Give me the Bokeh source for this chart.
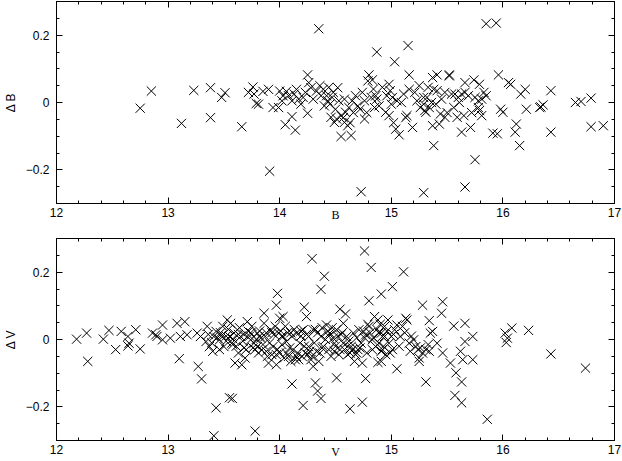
import numpy as np
from bokeh.plotting import figure
from bokeh.models import LinearAxis, FixedTicker, Range1d, ColumnDataSource
from bokeh.layouts import column
from bokeh.embed import file_html
from bokeh.resources import INLINE

# ---------------- data ----------------
b_mag = [12.75, 12.85, 13.12, 13.23, 13.38, 13.38, 13.48, 13.51, 13.66, 13.72, 13.76, 13.77, 13.79,
         13.81, 13.85, 13.90, 13.99, 14.00, 14.03, 14.06, 14.02, 14.05, 14.11, 14.14, 14.11, 14.15, 14.17,
         14.21, 14.25, 14.26, 14.25, 14.28, 14.33, 14.35, 14.39, 14.42, 14.43, 14.45, 14.48, 14.52, 14.46,
         14.51, 14.55, 14.59, 14.58, 14.61, 14.55, 14.64, 14.65, 14.62, 14.68, 14.70, 14.76, 14.79, 14.80,
         14.83, 14.82, 14.86, 14.85, 14.87, 14.87, 14.95, 14.98, 14.99, 15.01, 14.98, 15.03, 15.04, 15.07,
         15.05, 15.11, 15.15, 15.16, 15.16, 15.14, 15.19, 15.23, 15.26, 15.29, 15.30, 14.73, 15.29, 13.91,
         13.94, 14.76, 14.58, 14.37, 14.49,
         15.85, 15.94, 15.32, 15.29, 15.34, 15.31, 15.37, 15.41, 15.38, 15.41, 15.40, 15.44, 15.48, 15.37,
         15.43, 15.38, 15.52, 15.52, 15.48, 15.56, 15.57, 15.60, 15.63, 15.66, 15.59, 15.65, 15.63, 15.71,
         15.66, 15.74, 15.79, 15.75, 15.78, 15.81, 15.85, 15.79, 15.81, 15.78, 15.75, 15.66, 15.96, 16.05,
         16.07, 15.98, 16.00, 15.91, 15.95, 16.16, 16.20, 16.21, 16.12, 16.11, 16.15, 16.43, 16.43, 16.33,
         16.36, 16.34, 16.65, 16.70, 16.79, 16.79, 16.90]
b_delta = [-0.017, 0.034, -0.062, 0.036, 0.044, -0.045, 0.015, 0.029, -0.072, 0.030, 0.046, 0.025, -0.003,
           -0.005, 0.033, 0.039, -0.015, 0.034, 0.020, 0.033, 0.005, -0.066, -0.042, -0.082, 0.005, 0.039, 0.010,
           0.015, 0.082, 0.059, -0.032, 0.044, 0.034, 0.219, 0.039, 0.020, 0.005, -0.005, 0.030, 0.044, -0.044,
           -0.049, -0.039, -0.029, -0.059, -0.069, -0.101, -0.098, 0.005, -0.015, 0.020, -0.010, -0.049, 0.064, 0.082,
           0.067, 0.015, 0.020, -0.015, 0.150, 0.010, -0.029, 0.054, 0.035, 0.015, -0.039, 0.121, -0.079, -0.096,
           0.005, 0.025, 0.169, 0.082, 0.039, -0.039, -0.074, 0.005, -0.015, 0.015, -0.024, -0.265, -0.268, -0.204,
           -0.015, 0.005, 0.010, 0.020, -0.059,
           0.234, 0.236, 0.015, -0.005, -0.015, -0.029, 0.074, 0.082, 0.039, 0.035, -0.005, -0.034, -0.044, -0.069,
           -0.064, -0.128, 0.082, 0.079, 0.030, -0.015, 0.025, 0.015, 0.025, 0.030, -0.044, -0.039, -0.088, -0.074,
           0.059, 0.067, 0.054, 0.015, 0.005, 0.010, 0.020, -0.024, -0.039, -0.015, -0.170, -0.251, 0.082, 0.059,
           0.054, -0.020, -0.029, -0.091, -0.093, 0.025, 0.039, -0.020, -0.064, -0.088, -0.128, 0.035, -0.088, -0.015,
           -0.007, -0.013, 0.000, 0.003, 0.013, -0.072, -0.069]

# further stars inside the crowded band of the upper panel
b_mag_band = [14.08, 14.13, 14.19, 14.23, 14.30, 14.36, 14.40, 14.44, 14.47, 14.50, 14.53, 14.57, 14.63,
              14.66, 14.72, 14.74, 14.78, 14.84, 14.89, 14.92, 14.96, 15.00, 15.02, 15.09, 15.13, 15.21,
              15.25, 15.33, 15.36, 15.45, 15.50, 15.54, 15.61, 15.69, 15.72, 15.83]
b_delta_band = [0.020, 0.025, -0.005, 0.030, 0.010, 0.050, -0.010, 0.045, 0.015, -0.020, 0.005, -0.045, -0.060,
                -0.030, -0.020, 0.030, -0.030, 0.040, -0.010, 0.045, 0.020, -0.005, -0.060, 0.000, -0.045, 0.030,
                0.050, 0.045, 0.000, 0.010, -0.030, 0.025, 0.000, 0.020, -0.030, 0.030]

v_mag = [12.18, 12.27, 12.28, 12.42, 12.47, 12.53, 12.58, 12.64, 12.65, 12.64, 12.71, 12.75, 12.86, 12.89,
         12.95, 12.90, 12.95, 13.02, 13.08, 13.15, 13.11, 13.17, 13.10, 13.26, 13.29, 13.27, 13.30,
         13.43, 13.41, 13.55, 13.575, 13.78, 14.11, 13.98, 13.97, 13.86, 14.00, 14.03,
         13.34, 13.35, 13.37, 13.40, 13.41, 13.43, 13.46, 13.49, 13.50, 13.53, 13.56, 13.55, 13.57, 13.59,
         13.60, 13.63, 13.65, 13.66, 13.69, 13.71, 13.72, 13.74, 13.77, 13.80, 13.83, 13.84, 13.87, 13.89,
         13.90, 13.92, 13.94, 13.97, 13.99, 14.00, 14.03, 14.06, 14.08, 14.11, 14.12, 14.14, 14.05, 13.62,
         13.46, 13.80, 13.75, 13.86, 13.96,
         14.76, 14.29, 14.82, 14.40, 14.37, 14.80, 14.91, 14.22, 14.24, 14.54, 14.59, 14.85, 14.88, 14.32,
         14.34, 14.37, 14.21, 14.51, 14.63, 14.74, 14.77, 14.88, 14.30,
         14.15, 14.18, 14.17, 14.21, 14.23, 14.26, 14.26, 14.29, 14.30, 14.33, 14.35, 14.37, 14.42, 14.45,
         14.48, 14.49, 14.46, 14.51, 14.54, 14.57, 14.60, 14.61, 14.64, 14.66, 14.67, 14.70, 14.73, 14.74,
         14.77, 14.80, 14.83, 14.86, 14.89, 14.91, 14.92, 14.39, 14.71, 14.57,
         15.11, 15.01, 15.28, 15.46, 15.45, 15.34, 15.56, 15.66, 15.31, 15.58, 15.63, 15.57, 15.63, 15.05,
         15.53, 15.46, 15.62, 15.66, 15.64, 15.73, 15.73, 15.41, 15.35, 15.37, 15.25, 15.25,
         14.97, 14.94, 14.91, 14.89, 14.92, 14.95, 14.91, 15.00, 14.98, 15.03, 15.05, 15.10, 15.13, 15.14,
         15.08, 15.16, 15.20, 15.22, 15.26, 15.31, 15.34, 15.17, 14.94, 15.01,
         15.86, 16.02, 16.08, 16.04, 16.03, 16.23, 16.43, 16.74]
v_delta = [0.001, 0.019, -0.065, 0.001, 0.027, -0.030, 0.024, 0.009, -0.011, -0.019, 0.029, -0.028, 0.019, 0.014,
           0.043, 0.009, -0.001, 0.004, 0.048, 0.053, 0.009, 0.014, -0.057, 0.019, 0.009, -0.080, -0.117,
           -0.203, -0.286, -0.173, -0.175, -0.272, -0.132, 0.137, 0.102, 0.078, 0.063, 0.068,
           -0.006, 0.039, -0.021, -0.035, 0.009, 0.024, -0.001, 0.039, -0.021, 0.058, 0.048, 0.009, -0.011, 0.019,
           -0.070, -0.040, 0.009, -0.075, -0.055, 0.053, 0.024, -0.001, -0.011, -0.021, 0.004, -0.031, 0.009, -0.050,
           -0.070, 0.029, -0.021, -0.075, 0.019, -0.040, 0.009, -0.006, -0.050, 0.009, -0.030, -0.060, 0.039, 0.029,
           -0.030, 0.019, 0.039, 0.048, 0.039,
           0.263, 0.240, 0.214, 0.188, 0.149, 0.115, 0.135, 0.096, 0.068, 0.090, 0.076, 0.068, 0.058, -0.129,
           -0.153, -0.175, -0.196, -0.114, -0.206, -0.186, -0.116, -0.068, -0.080,
           0.019, -0.011, -0.060, 0.029, -0.040, 0.009, -0.021, -0.050, 0.029, -0.035, -0.065, 0.009, 0.043, 0.019,
           0.004, -0.011, -0.050, 0.029, -0.030, -0.011, 0.009, -0.045, -0.021, 0.019, -0.065, -0.030, -0.011, -0.070,
           0.014, 0.039, -0.001, -0.021, 0.019, -0.035, 0.009, -0.021, 0.029, 0.048,
           0.201, 0.157, 0.102, 0.112, 0.078, 0.056, 0.040, 0.048, -0.126, -0.099, -0.126, -0.166, -0.188, -0.087,
           -0.070, -0.040, -0.035, -0.006, -0.060, -0.060, 0.009, -0.011, 0.019, 0.024, -0.065, -0.055,
           0.058, 0.039, 0.019, -0.011, -0.030, -0.045, -0.065, 0.009, -0.011, 0.029, 0.043, 0.039, 0.063, 0.058,
           0.009, -0.011, -0.001, -0.021, -0.025, -0.030, -0.035, -0.035, 0.009, -0.030,
           -0.237, 0.019, 0.034, 0.004, -0.009, 0.027, -0.043, -0.085]

# further stars inside the crowded band of the lower panel
v_mag_band = [13.36, 13.39, 13.44, 13.48, 13.52, 13.54, 13.58, 13.61, 13.64, 13.67, 13.68, 13.70, 13.73,
              13.76, 13.79, 13.81, 13.82, 13.85, 13.88, 13.91, 13.93, 13.95, 13.98, 14.01, 14.02, 14.04,
              14.07, 14.09, 14.10, 14.13, 14.16, 14.19, 14.20, 14.22, 14.24, 14.27, 14.28, 14.31, 14.34,
              14.36, 14.38, 14.41, 14.43, 14.44, 14.47, 14.50, 14.52, 14.53, 14.56, 14.58, 14.62, 14.63,
              14.65, 14.68, 14.69, 14.72, 14.75, 14.78, 14.79, 14.81, 14.84, 14.87, 14.90, 14.93, 14.96,
              14.99, 15.02, 15.07, 15.12, 15.18, 15.24, 15.28, 15.33,
              13.47, 13.52, 13.58, 13.63, 13.68, 13.74, 13.78, 13.82, 13.88, 13.93, 13.97, 14.02, 14.06,
              14.10, 14.15, 14.19, 14.25, 14.32, 14.38, 14.44, 14.49, 14.55, 14.61, 14.69, 14.76, 14.83]
v_delta_band = [0.015, -0.010, 0.005, 0.012, -0.005, 0.030, 0.002, -0.020, 0.035, -0.005, 0.015, -0.030, 0.010,
                -0.025, 0.000, -0.040, 0.025, -0.015, 0.020, -0.010, -0.045, 0.015, -0.030, 0.025, -0.015, -0.055,
                0.020, -0.025, -0.065, 0.030, -0.040, 0.010, -0.050, -0.020, 0.015, -0.035, -0.060, -0.010, 0.020,
                -0.040, 0.035, 0.000, 0.025, -0.030, 0.035, -0.020, 0.010, -0.045, 0.020, -0.030, -0.005, -0.040,
                -0.030, -0.045, 0.005, -0.025, 0.025, -0.040, 0.045, 0.020, 0.005, 0.030, 0.045, -0.020, 0.025,
                -0.040, 0.015, -0.020, 0.020, 0.010, -0.030, -0.040, -0.015,
                0.020, 0.010, -0.015, 0.015, -0.025, 0.020, -0.030, 0.010, -0.035, 0.020, -0.045, 0.010, -0.040,
                0.020, -0.050, 0.025, -0.045, 0.030, -0.025, 0.010, -0.035, 0.015, -0.020, -0.040, 0.005, -0.030]

x_major = [12, 13, 14, 15, 16, 17]
y_major = [-0.2, 0.0, 0.2]
y_labels = {-0.2: "\u22120.2", 0.0: "0", 0.2: "0.2"}

FONT = "Liberation Sans"


def style_axis(ax, show_labels):
    ax.axis_line_color = "black"
    ax.major_tick_line_color = "black"
    ax.minor_tick_line_color = "black"
    ax.major_tick_in = 6
    ax.major_tick_out = 0
    ax.minor_tick_in = 3
    ax.minor_tick_out = 0
    if show_labels:
        ax.major_label_text_font = FONT
        ax.major_label_text_font_size = "12px"
        ax.major_label_text_color = "black"
        ax.axis_label_text_color = "black"
    else:
        ax.major_label_text_font_size = "0px"
        ax.major_label_text_color = None
        ax.major_label_standoff = 0
        ax.axis_label_standoff = 0


def make_panel(xs, ys, xlabel, ylabel, height, top_border, bottom_border):
    p = figure(width=622, height=height, x_range=Range1d(12, 17), y_range=Range1d(-0.3, 0.3),
               output_backend="svg", toolbar_location=None,
               x_axis_location=None, y_axis_location=None,
               min_border_left=51, min_border_right=8,
               min_border_top=top_border, min_border_bottom=bottom_border)
    p.grid.visible = False
    p.outline_line_color = "black"
    p.outline_line_width = 1
    p.background_fill_color = "white"
    p.border_fill_color = "white"

    xt = FixedTicker(ticks=x_major, minor_ticks=list(np.round(np.arange(12, 17.01, 0.2), 2)))
    yt = FixedTicker(ticks=y_major, minor_ticks=list(np.round(np.arange(-0.3, 0.301, 0.05), 3)))

    xb = LinearAxis(ticker=xt, axis_label=xlabel)
    style_axis(xb, True)
    xb.major_label_standoff = 4
    xb.axis_label_text_font = "Liberation Serif"
    xb.axis_label_text_font_style = "normal"
    xb.axis_label_text_font_size = "12px"
    xb.axis_label_standoff = -12
    p.add_layout(xb, "below")

    xa = LinearAxis(ticker=xt)
    style_axis(xa, False)
    p.add_layout(xa, "above")

    yl = LinearAxis(ticker=yt, axis_label=ylabel, major_label_overrides=y_labels)
    style_axis(yl, True)
    yl.major_label_standoff = 7
    yl.axis_label_text_font = FONT
    yl.axis_label_text_font_style = "normal"
    yl.axis_label_text_font_size = "12px"
    yl.axis_label_standoff = 5
    p.add_layout(yl, "left")

    yr = LinearAxis(ticker=yt)
    style_axis(yr, False)
    p.add_layout(yr, "right")

    src = ColumnDataSource(dict(x=xs, y=ys))
    p.scatter("x", "y", source=src, marker="x", size=13, line_color="black", line_width=1)
    return p


p1 = make_panel(b_mag + b_mag_band, b_delta + b_delta_band, "B", "\u0394 B", 225, 1, 22)
p2 = make_panel(v_mag + v_mag_band, v_delta + v_delta_band, "V", "\u0394 V", 236, 13, 21)

layout = column(p1, p2)
open("out.html", "w").write(file_html(layout, INLINE))
